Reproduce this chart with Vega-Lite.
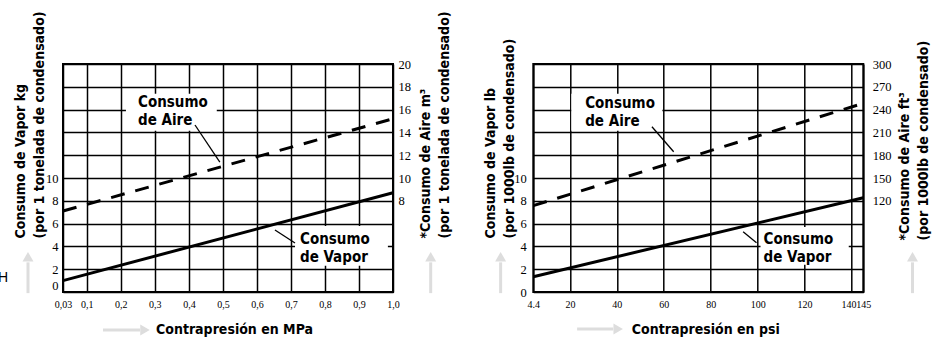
{
  "$schema": "https://vega.github.io/schema/vega-lite/v6.json",
  "background": "white",
  "padding": {"left": -4, "top": 9, "right": 0, "bottom": 0},
  "config": {
    "view": {"stroke": "black", "strokeWidth": 2},
    "axis": {"labelColor": "black", "titleColor": "black", "domain": false, "ticks": false, "gridColor": "black", "gridOpacity": 1, "gridWidth": 1.5, "labelOverlap": false, "labelFlush": false, "tickCount": 40}
  },
  "datasets": {
    "Lv": [{"p": 0.03, "v": 1.0}, {"p": 1.0, "v": 8.7}],
    "La": [{"p": 0.03, "a": 7.1}, {"p": 1.0, "a": 15.2}],
    "Lb": [{"x1": 0.215, "x2": 0.482, "y1": 14.15, "y2": 17.4}, {"x1": 0.712, "x2": 0.985, "y1": 2.3, "y2": 5.8}],
    "Ll": [{"x1": 0.418, "y1": 14.65, "x2": 0.491, "y2": 11.4}, {"x1": 0.653, "y1": 5.44, "x2": 0.712, "y2": 4.3}],
    "Lt": [{"x": 0.2505, "y": 16.69, "t": "Consumo"}, {"x": 0.2505, "y": 15.09, "t": "de Aire"}, {"x": 0.7266, "y": 4.65, "t": "Consumo"}, {"x": 0.7266, "y": 3.07, "t": "de Vapor"}],
    "Ls": [{"x1": -0.0729, "y1": -0.1, "x2": -0.0729, "y2": 2.6}, {"x1": 1.1108, "y1": -0.1, "x2": 1.1108, "y2": 2.6}, {"x1": 0.1476, "y1": -3.33, "x2": 0.2563, "y2": -3.33}],
    "Lhu": [{"x1": -0.0729, "y1": 3.1}, {"x1": 1.1108, "y1": 3.1}],
    "Lhr": [{"x1": 0.271, "y1": -3.33}],
    "LH": [{"x": -0.1464, "y": 1.27, "t": "H"}],
    "Rv": [{"p": 4.4, "v": 1.34}, {"p": 145, "v": 8.27}],
    "Ra": [{"p": 4.4, "a": 113.6}, {"p": 145, "a": 248.3}],
    "Rb": [{"x1": 20.6, "x2": 59.4, "y1": 14.15, "y2": 17.4}, {"x1": 101.2, "x2": 138.8, "y1": 2.4, "y2": 5.7}],
    "Rl": [{"x1": 54.95, "y1": 14.5, "x2": 64.2, "y2": 12.3}, {"x1": 93.8, "y1": 5.29, "x2": 99.5, "y2": 4.32}],
    "Rt": [{"x": 26.5, "y": 16.58, "t": "Consumo"}, {"x": 26.5, "y": 15.0, "t": "de Aire"}, {"x": 102.5, "y": 4.65, "t": "Consumo"}, {"x": 102.5, "y": 3.07, "t": "de Vapor"}],
    "Rs": [{"x1": -9.52, "y1": -0.1, "x2": -9.52, "y2": 2.6}, {"x1": 165.97, "y1": -0.1, "x2": 165.97, "y2": 2.6}, {"x1": 23.06, "y1": -3.25, "x2": 38.43, "y2": -3.25}],
    "Rhu": [{"x1": -9.52, "y1": 3.1}, {"x1": 165.97, "y1": 3.1}],
    "Rhr": [{"x1": 40.56, "y1": -3.25}]
  },
  "hconcat": [
    {
      "width": 330,
      "height": 228,
      "resolve": {"scale": {"y": "independent"}},
      "layer": [
        {
          "encoding": {
            "x": {"field": "x1", "type": "quantitative", "scale": {"domain": [0.03, 1.0], "nice": false, "zero": false},
              "axis": {"orient": "bottom", "values": [0.03, 0.1, 0.2, 0.3, 0.4, 0.5, 0.6, 0.7, 0.8, 0.9, 1.0], "tickCount": 40, "grid": true, "format": ".2~f", "labelExpr": "datum.value == 1 ? '1,0' : replace(datum.label, '.', ',')", "labelFont": "Liberation Sans Narrow", "labelFontSize": 10, "labelPadding": 7,
                "title": "Contrapresión en MPa", "titleFont": "DejaVu Sans Condensed", "titleFontSize": 14, "titleFontWeight": "bold", "titleX": 171, "titleY": 37, "titleAlign": "center", "titleBaseline": "middle"}},
            "y": {"field": "y1", "type": "quantitative", "scale": {"domain": [0, 20], "nice": false, "zero": false},
              "axis": {"orient": "left", "values": [0, 2, 4, 6, 8, 10, 12, 14, 16, 18, 20], "tickCount": 40, "format": "d", "grid": true, "labelExpr": "datum.value <= 10 ? datum.label : ''", "labelBaseline": {"condition": {"test": "datum.value == 0", "value": "bottom"}, "value": "middle"}, "labelFont": "Liberation Sans Narrow", "labelFontSize": 12.5, "labelPadding": 5,
                "title": ["Consumo de Vapor kg", "(por 1 tonelada de condensado)"], "titleFont": "DejaVu Sans Condensed", "titleFontSize": 14, "titleFontWeight": "bold", "titleAngle": -90, "titleAlign": "left", "titleBaseline": "alphabetic", "titleX": -39, "titleY": 174, "titleLineHeight": 19}}
          },
          "layer": [
            {
              "data": {"name": "Lb"},
              "mark": {"type": "rect", "fill": "white"},
              "encoding": {"x2": {"field": "x2"}, "y2": {"field": "y2"}}
            },
            {
              "data": {"name": "Lv"},
              "mark": {"type": "line", "color": "black", "strokeWidth": 3},
              "encoding": {"x": {"field": "p", "type": "quantitative"}, "y": {"field": "v", "type": "quantitative"}}
            },
            {
              "data": {"name": "Ll"},
              "mark": {"type": "rule", "color": "black", "strokeWidth": 1.3},
              "encoding": {"x2": {"field": "x2"}, "y2": {"field": "y2"}}
            },
            {
              "data": {"name": "Lt"},
              "mark": {"type": "text", "align": "left", "baseline": "middle", "font": "DejaVu Sans Condensed", "fontSize": 15, "fontWeight": "bold", "color": "black"},
              "encoding": {"x": {"field": "x", "type": "quantitative"}, "y": {"field": "y", "type": "quantitative"}, "text": {"field": "t"}}
            },
            {
              "data": {"name": "Ls"},
              "mark": {"type": "rule", "color": "#dddddd", "strokeWidth": 3},
              "encoding": {"x2": {"field": "x2"}, "y2": {"field": "y2"}}
            },
            {
              "data": {"name": "Lhu"},
              "mark": {"type": "point", "shape": "triangle-up", "filled": true, "color": "#dddddd", "opacity": 1, "size": 120}
            },
            {
              "data": {"name": "Lhr"},
              "mark": {"type": "point", "shape": "triangle-right", "filled": true, "color": "#dddddd", "opacity": 1, "size": 120}
            },
            {
              "data": {"name": "LH"},
              "mark": {"type": "text", "align": "center", "baseline": "middle", "font": "Liberation Sans", "fontSize": 14, "color": "black"},
              "encoding": {"x": {"field": "x", "type": "quantitative"}, "y": {"field": "y", "type": "quantitative"}, "text": {"field": "t"}}
            }
          ]
        },
        {
          "data": {"name": "La"},
          "mark": {"type": "line", "color": "black", "strokeWidth": 3, "strokeDash": [14, 11]},
          "encoding": {
            "x": {"field": "p", "type": "quantitative", "scale": {"domain": [0.03, 1.0], "nice": false, "zero": false}},
            "y": {"field": "a", "type": "quantitative", "scale": {"domain": [0, 20], "nice": false, "zero": false},
              "axis": {"orient": "right", "values": [8, 10, 12, 14, 16, 18, 20], "tickCount": 40, "format": "d", "grid": false, "labelFont": "Liberation Sans Narrow", "labelFontSize": 12.5, "labelPadding": 5,
                "title": ["*Consumo de Aire m³", "(por 1 tonelada de condensado)"], "titleFont": "DejaVu Sans Condensed", "titleFontSize": 14, "titleFontWeight": "bold", "titleAngle": -90, "titleAlign": "left", "titleBaseline": "alphabetic", "titleX": 36, "titleY": 174, "titleLineHeight": 19}}
          }
        }
      ]
    },
    {
      "width": 330,
      "height": 228,
      "resolve": {"scale": {"y": "independent"}},
      "layer": [
        {
          "encoding": {
            "x": {"field": "x1", "type": "quantitative", "scale": {"domain": [4.4, 145], "nice": false, "zero": false},
              "axis": {"orient": "bottom", "values": [4.4, 20, 40, 60, 80, 100, 120, 140, 145], "tickCount": 40, "grid": true, "format": ".1~f", "labelOffset": {"condition": {"test": "datum.value == 140", "value": -3}, "value": 0}, "labelFont": "Liberation Sans Narrow", "labelFontSize": 10, "labelPadding": 7,
                "title": "Contrapresión en psi", "titleFont": "DejaVu Sans Condensed", "titleFontSize": 14, "titleFontWeight": "bold", "titleX": 172, "titleY": 37, "titleAlign": "center", "titleBaseline": "middle"}},
            "y": {"field": "y1", "type": "quantitative", "scale": {"domain": [0, 20], "nice": false, "zero": false},
              "axis": {"orient": "left", "values": [0, 2, 4, 6, 8, 10, 12, 14, 16, 18, 20], "tickCount": 40, "format": "d", "grid": true, "labelExpr": "datum.value <= 10 ? datum.label : ''", "labelFont": "Liberation Sans Narrow", "labelFontSize": 12.5, "labelPadding": 7,
                "title": ["Consumo de Vapor lb", "(por 1000lb de condensado)"], "titleFont": "DejaVu Sans Condensed", "titleFontSize": 14, "titleFontWeight": "bold", "titleAngle": -90, "titleAlign": "left", "titleBaseline": "alphabetic", "titleX": -39, "titleY": 174, "titleLineHeight": 19}}
          },
          "layer": [
            {
              "data": {"name": "Rb"},
              "mark": {"type": "rect", "fill": "white"},
              "encoding": {"x2": {"field": "x2"}, "y2": {"field": "y2"}}
            },
            {
              "data": {"name": "Rv"},
              "mark": {"type": "line", "color": "black", "strokeWidth": 3},
              "encoding": {"x": {"field": "p", "type": "quantitative"}, "y": {"field": "v", "type": "quantitative"}}
            },
            {
              "data": {"name": "Rl"},
              "mark": {"type": "rule", "color": "black", "strokeWidth": 1.3},
              "encoding": {"x2": {"field": "x2"}, "y2": {"field": "y2"}}
            },
            {
              "data": {"name": "Rt"},
              "mark": {"type": "text", "align": "left", "baseline": "middle", "font": "DejaVu Sans Condensed", "fontSize": 15, "fontWeight": "bold", "color": "black"},
              "encoding": {"x": {"field": "x", "type": "quantitative"}, "y": {"field": "y", "type": "quantitative"}, "text": {"field": "t"}}
            },
            {
              "data": {"name": "Rs"},
              "mark": {"type": "rule", "color": "#dddddd", "strokeWidth": 3},
              "encoding": {"x2": {"field": "x2"}, "y2": {"field": "y2"}}
            },
            {
              "data": {"name": "Rhu"},
              "mark": {"type": "point", "shape": "triangle-up", "filled": true, "color": "#dddddd", "opacity": 1, "size": 120}
            },
            {
              "data": {"name": "Rhr"},
              "mark": {"type": "point", "shape": "triangle-right", "filled": true, "color": "#dddddd", "opacity": 1, "size": 120}
            }
          ]
        },
        {
          "data": {"name": "Ra"},
          "mark": {"type": "line", "color": "black", "strokeWidth": 3, "strokeDash": [14, 11]},
          "encoding": {
            "x": {"field": "p", "type": "quantitative", "scale": {"domain": [4.4, 145], "nice": false, "zero": false}},
            "y": {"field": "a", "type": "quantitative", "scale": {"domain": [0, 300], "nice": false, "zero": false},
              "axis": {"orient": "right", "values": [120, 150, 180, 210, 240, 270, 300], "tickCount": 40, "format": "d", "grid": false, "labelFont": "Liberation Sans Narrow", "labelFontSize": 12.5, "labelPadding": 9,
                "title": ["*Consumo de Aire ft³", "(por 1000lb de condensado)"], "titleFont": "DejaVu Sans Condensed", "titleFontSize": 14, "titleFontWeight": "bold", "titleAngle": -90, "titleAlign": "left", "titleBaseline": "alphabetic", "titleX": 45, "titleY": 176, "titleLineHeight": 19}}
          }
        }
      ]
    }
  ],
  "spacing": 140.3,
  "bounds": "flush"
}
